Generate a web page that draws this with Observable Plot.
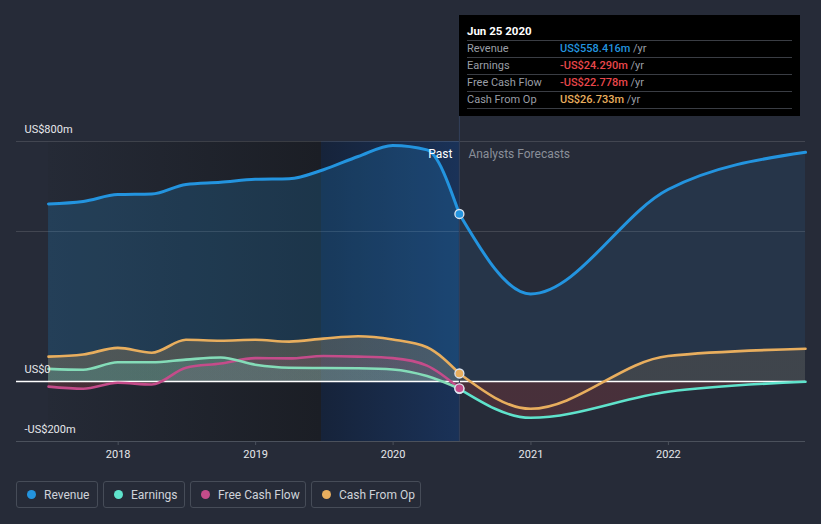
<!DOCTYPE html>
<html><head><meta charset="utf-8">
<script src="https://cdn.jsdelivr.net/npm/d3@7"></script>
<script src="https://cdn.jsdelivr.net/npm/@observablehq/plot@0.6"></script>
<style>
html,body{margin:0;padding:0;background:#262b38;}
body{width:821px;height:524px;position:relative;overflow:hidden;font-family:Roboto,"Noto Sans",sans-serif;}
#chart{position:absolute;left:0;top:0;}
#tip{position:absolute;left:459px;top:15px;width:341px;height:101px;background:#000;font-size:11px;}
#tip .title{position:absolute;left:8px;top:9px;color:#fff;font-weight:700;font-size:11.5px;}
#tip .row{position:absolute;left:8px;width:325px;height:17px;border-top:1px solid #3a3d44;line-height:16px;}
#tip .lab{position:absolute;left:0;color:#9a9ea6;}
#tip .val{position:absolute;left:93px;font-weight:500;}
#tip .unit{color:#9a9ea6;font-weight:400;}
#tip .last{position:absolute;left:8px;width:325px;top:93px;border-top:1px solid #3a3d44;}
#legend{position:absolute;left:16px;top:481px;display:flex;gap:5px;}
.item{height:27px;box-sizing:border-box;border:1px solid #464c58;border-radius:3px;display:flex;align-items:center;padding-left:10px;color:#cfd3da;font-size:12px;}
.dot{width:9px;height:9px;border-radius:50%;margin-right:8px;flex:none;}
</style>
</head><body>
<div id="chart"></div>
<div id="tip"></div>
<div id="legend"></div>
<script>
const parse = d3.utcParse("%Y-%m-%d");

// ---- data ----
const seriesNames = ["Revenue", "Earnings", "Free Cash Flow", "Cash From Op"];
const seriesColors = ["#2394df", "#5fe3cc", "#c44c8a", "#e8ae5e"];
const currentDateStr = "2020-06-25";
const currentValues = [558.416, -24.290, -22.778, 26.733];

const pastDates = ["2017-06-30","2017-09-30","2017-12-31","2018-03-31","2018-06-30","2018-09-30","2018-12-31","2019-03-31","2019-06-30","2019-09-30","2019-12-31","2020-03-31","2020-06-25"];
const revenuePast  = [592, 600, 623, 625, 657, 664, 674, 676, 706, 750, 787, 772, 558.416];
const earningsPast = [42, 39, 64, 64, 73, 80, 56, 46, 45, 44, 40, 18, -24.290];
const fcfPast      = [-17, -24, -4, -10, 46, 60, 78, 77, 85, 83, 78, 53, -22.778];
const cfoPast      = [83, 90, 112, 96, 139, 136, 139, 133, 143, 151, 140, 114, 26.733];

const forecastDates    = ["2020-06-25","2020-12-31","2021-12-31","2022-12-31"];
const revenueForecast  = [558.416, 292, 640, 764];
const earningsForecast = [-24.290, -121, -34, -1];
const cfoForecast      = [26.733, -91, 85, 109];

const yearTicks = ["2018-01-01","2019-01-01","2020-01-01","2021-01-01","2022-01-01"];
const yTicks = [-200, 0, 800];
const gridValues = [800, 500];
const axisStart = "2017-04-06", axisEnd = "2022-12-31";

// ---- build ----
const rows = (dates, vals) => dates.map((d, i) => ({date: parse(d), value: vals[i]}));
const current = parse(currentDateStr);
const yearBefore = d3.utcYear.offset(current, -1);
const fmtMoney = v => v === 0 ? "US$0" : (v < 0 ? "-" : "") + "US$" + Math.abs(v) + "m";

const rp = rows(pastDates, revenuePast), ep = rows(pastDates, earningsPast),
      fp = rows(pastDates, fcfPast), cp = rows(pastDates, cfoPast);
const rf = rows(forecastDates, revenueForecast), ef = rows(forecastDates, earningsForecast),
      cf = rows(forecastDates, cfoForecast);
const dots = [3, 0, 1, 2].map(i => ({date: current, value: currentValues[i], color: seriesColors[i]}));

const curve = "monotone-x";
const area = (data, fill, opacity) => Plot.areaY(data, {x: "date", y: "value", curve, fill, fillOpacity: opacity});
const line = (data, stroke, w = 2.6) => Plot.line(data, {x: "date", y: "value", curve, stroke, strokeWidth: w});

const chart = Plot.plot({
  width: 821, height: 470,
  marginLeft: 16, marginRight: 16, marginTop: 141, marginBottom: 29,
  x: {type: "utc", domain: [parse(axisStart), parse(axisEnd)]},
  y: {domain: [-200, 800]},
  style: {background: "transparent", fontFamily: "Roboto, 'Noto Sans', sans-serif", fontSize: "11px", color: "#e6e8eb"},
  marks: [
    Plot.rect([{a: parse(pastDates[0]), b: yearBefore}], {x1: "a", x2: "b", fill: "url(#gDark)"}),
    Plot.rect([{a: yearBefore, b: current}], {x1: "a", x2: "b", fill: "url(#gBlue)"}),
    Plot.ruleY(gridValues, {stroke: "#ffffff", strokeOpacity: 0.13}),
    area(rp, "#2394df", 0.2),
    area(rf, "#2394df", 0.1),
    area(cp, "url(#gCfoP)", 1),
    area(cf, "url(#gCfoF)", 1),
    area(fp, "url(#gFcf)", 1),
    area(ep, "url(#gEarnP)", 1),
    area(ef, "url(#gEarnF)", 1),
    Plot.ruleY([-200], {stroke: "#4b515c"}),
    Plot.ruleY([0], {stroke: "#ffffff", strokeWidth: 1.3}),
    Plot.ruleX([current], {stroke: "#33405a", insetTop: -126}),
    line(cp, seriesColors[3]),
    line(cf, seriesColors[3]),
    line(fp, seriesColors[2]),
    line(ep, "#84dcb8"),
    line(ef, seriesColors[1]),
    line(rp, seriesColors[0], 3),
    line(rf, seriesColors[0], 3),
    Plot.dot(dots, {x: "date", y: "value", fill: "color", r: 4.5, stroke: "#dde4ee", strokeWidth: 1.3}),
    Plot.text([{date: current, label: "Past"}], {x: "date", text: "label", frameAnchor: "top", dy: 8, dx: -7, textAnchor: "end", fill: "#ffffff", fontSize: 12}),
    Plot.text([{date: current, label: "Analysts Forecasts"}], {x: "date", text: "label", frameAnchor: "top", dy: 8, dx: 9, textAnchor: "start", fill: "#8a8f98", fontSize: 12}),
    Plot.axisX(yearTicks.map(parse), {tickFormat: d3.utcFormat("%Y"), tickSize: 4, tickPadding: 5, stroke: "#4b515c", fill: "#e6e8eb", label: null}),
    Plot.axisY(yTicks, {anchor: "left", tickSize: 0, tickPadding: -8, textAnchor: "start", dy: -12, tickFormat: fmtMoney, fill: "#e6e8eb", label: null})
  ]
});
document.getElementById("chart").appendChild(chart);

// gradient defs
const NS = "http://www.w3.org/2000/svg";
const defs = document.createElementNS(NS, "defs");
const H = 470;
const zeroPx = chart.scale("y").apply(0);
function grad(id, stops, vertical) {
  const g = document.createElementNS(NS, "linearGradient");
  g.setAttribute("id", id);
  if (vertical) {
    g.setAttribute("gradientUnits", "userSpaceOnUse");
    g.setAttribute("x1", 0); g.setAttribute("x2", 0);
    g.setAttribute("y1", 0); g.setAttribute("y2", H);
  } else {
    g.setAttribute("x1", 0); g.setAttribute("x2", 1);
    g.setAttribute("y1", 0); g.setAttribute("y2", 0);
  }
  for (const [off, col, op] of stops) {
    const s = document.createElementNS(NS, "stop");
    s.setAttribute("offset", off);
    s.setAttribute("stop-color", col);
    s.setAttribute("stop-opacity", op);
    g.appendChild(s);
  }
  defs.appendChild(g);
}
const z = zeroPx / H;
const signGrad = (id, col, op, neg, negOp) => grad(id, [[0, col, op], [z, col, op], [z, neg, negOp], [1, neg, negOp]], true);
grad("gDark", [[0, "#252a36", 1], [1, "#1b1e25", 1]], false);
grad("gBlue", [[0, "#16233a", 1], [1, "#1a3258", 1]], false);
signGrad("gCfoP", "#e8ae5e", 0.22, "#e8ae5e", 0);
signGrad("gCfoF", "#e8ae5e", 0.13, "#e8ae5e", 0);
signGrad("gFcf", "#c44c8a", 0.12, "#d04545", 0.2);
signGrad("gEarnP", "#5fe3cc", 0.18, "#d04545", 0.2);
signGrad("gEarnF", "#5fe3cc", 0.18, "#d04545", 0.2);
chart.insertBefore(defs, chart.firstChild);

// tooltip
const tip = document.getElementById("tip");
const fmtTip = v => (v < 0 ? "-" : "") + "US$" + Math.abs(v).toFixed(3) + "m";
let html = `<div class="title">${d3.utcFormat("%b %d %Y")(current)}</div>`;
seriesNames.forEach((n, i) => {
  const v = currentValues[i];
  const col = v < 0 ? "#e8474b" : seriesColors[i];
  html += `<div class="row" style="top:${25 + i * 17}px"><span class="lab">${n}</span><span class="val" style="color:${col}">${fmtTip(v)} <span class="unit">/yr</span></span></div>`;
});
html += `<div class="last"></div>`;
tip.innerHTML = html;

// legend
const legendWidths = [82, 82, 116, 110];
document.getElementById("legend").innerHTML = seriesNames.map((n, i) =>
  `<div class="item" style="width:${legendWidths[i]}px"><span class="dot" style="background:${seriesColors[i]}"></span>${n}</div>`).join("");
</script>
</body></html>
